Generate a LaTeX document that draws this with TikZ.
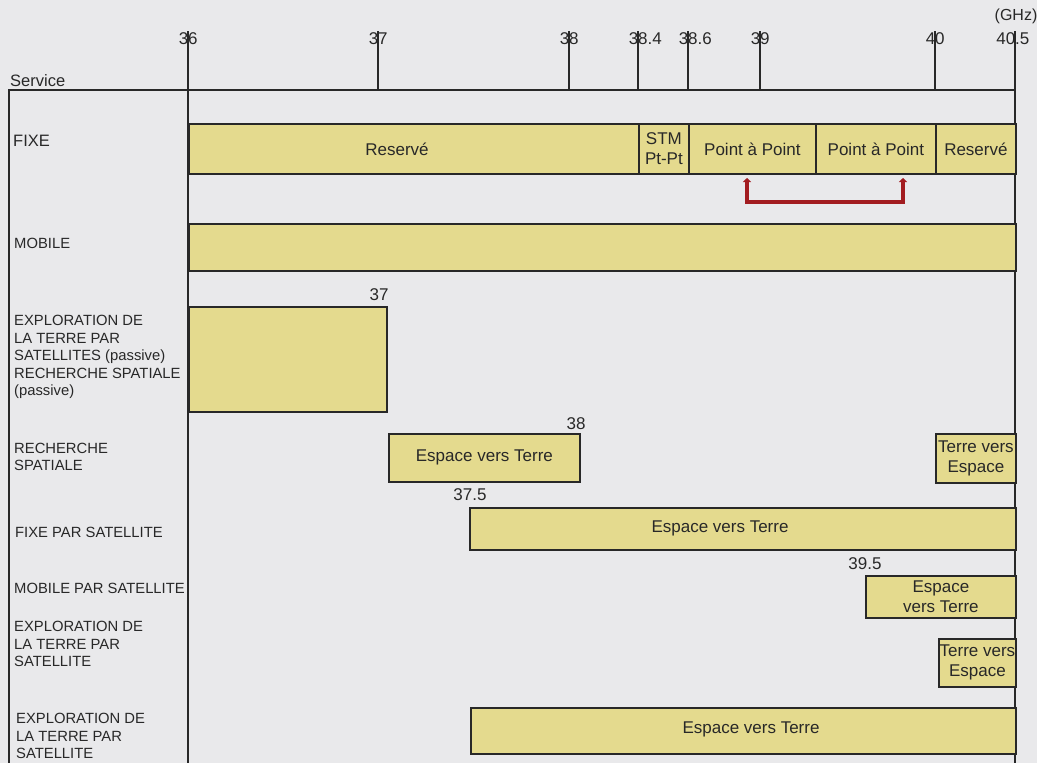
\documentclass[tikz,border=0pt]{standalone}
\usepackage{fontspec}
\setmainfont{Liberation Sans}
\usetikzlibrary{arrows.meta}
\definecolor{bgcol}{RGB}{233,233,235}
\definecolor{barfill}{RGB}{228,218,142}
\definecolor{ink}{RGB}{40,40,40}
\definecolor{bracketred}{RGB}{162,28,32}
\tikzset{
  bandbox/.style={draw=ink, fill=barfill, line width=1.8pt, inner sep=0pt, align=center,
    font=\fontsize{17}{20}\selectfont, text=ink},
  bandtext/.style={inner sep=0pt, align=center, font=\fontsize{17}{20}\selectfont, text=ink},
  svc/.style={anchor=west, align=left, inner sep=0pt, font=\fontsize{14.8}{17.5}\selectfont, text=ink},
  svcbig/.style={anchor=west, align=left, inner sep=0pt, font=\fontsize{16.5}{19}\selectfont, text=ink},
  ticklab/.style={anchor=west, inner sep=0pt, font=\fontsize{17}{20}\selectfont, text=ink},
  edgelab/.style={inner sep=0pt, font=\fontsize{17}{20}\selectfont, text=ink},
  frameline/.style={draw=ink, line width=1.8pt},
  bracketline/.style={draw=bracketred, line width=4.5pt,
    {Triangle[width=8pt,length=4pt]}-{Triangle[width=8pt,length=4pt]}},
}
\newcommand\bandnode[6]{%
  \node[bandbox, anchor=north west, minimum width={(#4-#2)*1pt},
        minimum height={(#5-#3)*1pt}] (#1) at (#2,#3) {#6};}
\begin{document}
\begin{tikzpicture}[x=1pt,y=-1pt]
\useasboundingbox (0,0) rectangle (1037,763);
\fill[bgcol] (0,0) rectangle (1037,763);

% frame
\coordinate (topL) at (9,90);
\coordinate (topR) at (1015,90);
\coordinate (botL) at (9,763);
\draw[frameline] (botL) -- (topL) -- (topR);

% tick labels and ticks
\node[ticklab] (t36) at (188-9.45,39) {36};
\node[ticklab] (t37) at (378-9.45,39) {37};
\node[ticklab] (t38) at (569-9.45,39) {38};
\node[ticklab] (t384) at (638-9.45,39) {38.4};
\node[ticklab] (t386) at (688-9.45,39) {38.6};
\node[ticklab] (t39) at (760-9.45,39) {39};
\node[ticklab] (t40) at (935-9.45,39) {40};
\node[ticklab] (t405) at (1015-18.9,39) {40.5};
\node[edgelab, font=\fontsize{16}{19}\selectfont] (ghz) at (1016,16) {(GHz)};

\draw[frameline] (188,31) -- (188,763);
\draw[frameline] (1015,31) -- (1015,763);
\foreach \tx in {378,569,638,688,760,935}{\draw[frameline] (\tx,31) -- (\tx,90);}

% service labels
\node[svcbig] (lserv) at (10,81) {Service};
\node[svcbig] (lfixe) at (13,141) {FIXE};
\node[svc] (lmob) at (14,243) {MOBILE};
\node[svc] (lexp1) at (14,357) {EXPLORATION DE\\LA TERRE PAR\\SATELLITES (passive)\\RECHERCHE SPATIALE\\(passive)};
\node[svc] (lrech) at (14,457) {RECHERCHE\\SPATIALE};
\node[svc] (lfss) at (15,532) {FIXE PAR SATELLITE};
\node[svc] (lmss) at (14,588) {MOBILE PAR SATELLITE};
\node[svc] (lexp2) at (14,644) {EXPLORATION DE\\LA TERRE PAR\\SATELLITE};
\node[svc] (lexp3) at (16,736) {EXPLORATION DE\\LA TERRE PAR\\SATELLITE};

% FIXE
\bandnode{f1}{188}{123}{638}{173}{}
\node[bandtext] (f1t) at (397,149) {Reservé};
\bandnode{f2}{638}{123}{688}{173}{STM\\Pt-Pt}
\bandnode{f3}{688}{123}{815}{173}{Point à Point}
\bandnode{f4}{815}{123}{935}{173}{Point à Point}
\bandnode{f5}{935}{123}{1015}{173}{Reservé}

% red bracket
\coordinate (brL) at (747,178);
\coordinate (brR) at (903,178);
\draw[bracketline] (brL) -- ++(0,24) -| (brR);

% MOBILE
\bandnode{mob}{188}{223}{1015}{270}{}

% Exploration passive
\bandnode{eesp}{188}{306}{386}{411}{}
\node[edgelab] (e37) at (379,295) {37};

% Recherche spatiale
\bandnode{rs1}{388}{433}{579}{481}{Espace vers Terre}
\node[edgelab] (e38) at (576,424) {38};
\bandnode{rs2}{935}{433}{1015}{482}{Terre vers\\Espace}

% Fixe par satellite
\bandnode{fss}{469}{507}{1015}{549}{}
\node[bandtext] (fsst) at (720,528) {Espace vers Terre};
\node[edgelab] (e375) at (470,495) {37.5};

% Mobile par satellite
\bandnode{mss}{865}{575}{1015}{617}{Espace\\vers Terre}
\node[edgelab] (e395) at (865,564) {39.5};

% Exploration de la terre par satellite
\bandnode{ets}{938}{638}{1015}{686}{Terre vers\\Espace}

% last row
\bandnode{ets2}{470}{707}{1015}{753}{}
\node[bandtext] (ets2t) at (751,729) {Espace vers Terre};
\end{tikzpicture}
\end{document}
